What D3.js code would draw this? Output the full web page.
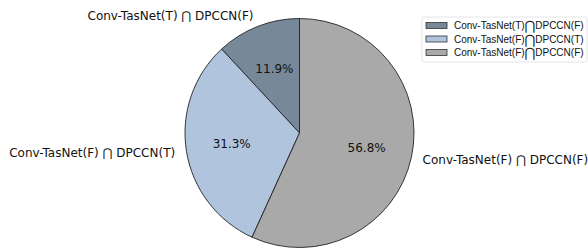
<!DOCTYPE html>
<html>
<head>
<meta charset="utf-8">
<script src="https://cdn.jsdelivr.net/npm/d3@7"></script>
<style>
  body { margin: 0; background: #fff; }
  svg { display: block; }
</style>
</head>
<body>
<svg id="chart" width="588" height="249"></svg>
<script>
// data
var labels = ["Conv-TasNet(T) \u22C2 DPCCN(F)", "Conv-TasNet(F) \u22C2 DPCCN(T)", "Conv-TasNet(F) \u22C2 DPCCN(F)"];
var legendLeft = ["Conv-TasNet(T)", "Conv-TasNet(F)", "Conv-TasNet(F)"];
var legendRight = ["DPCCN(F)", "DPCCN(T)", "DPCCN(F)"];
var values = [11.9, 31.3, 56.8];
var colors = ["#778899", "#B0C4DE", "#A9A9A9"];

var svg = d3.select("#chart");
var cx = 299.5, cy = 133, r = 114.5;

var data = values.map(function (v, i) {
  return { label: labels[i], left: legendLeft[i], right: legendRight[i], value: v, color: colors[i] };
});

// matplotlib style: start at top, go counterclockwise
var pie = d3.pie()
  .value(function (d) { return d.value; })
  .sort(null)
  .startAngle(0)
  .endAngle(-2 * Math.PI);

var arcs = pie(data);
var arc = d3.arc().innerRadius(0).outerRadius(r);

var g = svg.append("g").attr("transform", "translate(" + cx + "," + cy + ")");

g.selectAll(".slice")
  .data(arcs)
  .enter().append("path")
  .attr("class", "slice")
  .attr("d", arc)
  .attr("fill", function (d) { return d.data.color; })
  .attr("stroke", "#222")
  .attr("stroke-width", 0.9);

var mid = function (d) { return (d.startAngle + d.endAngle) / 2; };

// percent labels
g.selectAll(".pct")
  .data(arcs)
  .enter().append("text")
  .attr("class", "pct")
  .attr("x", function (d) { return 0.6 * r * Math.sin(mid(d)); })
  .attr("y", function (d) { return -0.6 * r * Math.cos(mid(d)); })
  .attr("text-anchor", "middle")
  .attr("dy", "0.35em")
  .attr("font-family", "DejaVu Sans")
  .attr("font-size", 12)
  .attr("fill", "#111")
  .text(function (d) { return d.data.value.toFixed(1) + "%"; });

// outer labels
g.selectAll(".lbl")
  .data(arcs)
  .enter().append("text")
  .attr("class", "lbl")
  .attr("x", function (d) { return 1.1 * r * Math.sin(mid(d)); })
  .attr("y", function (d) { return -1.1 * r * Math.cos(mid(d)); })
  .attr("text-anchor", function (d) { return Math.sin(mid(d)) < 0 ? "end" : "start"; })
  .attr("dy", "0.35em")
  .attr("font-family", "DejaVu Sans")
  .attr("font-size", 12)
  .attr("fill", "#111")
  .text(function (d) { return d.data.label; });

// legend
var lg = svg.append("g").attr("transform", "translate(422,17)");
lg.append("rect")
  .attr("width", 165).attr("height", 45)
  .attr("rx", 2)
  .attr("fill", "#fff")
  .attr("stroke", "#e0e0e0")
  .attr("stroke-width", 0.8);

var items = lg.selectAll(".item")
  .data(data)
  .enter().append("g")
  .attr("class", "item")
  .attr("transform", function (d, i) { return "translate(0," + (8.5 + i * 13.5) + ")"; });

items.append("rect")
  .attr("x", 4).attr("y", -3)
  .attr("width", 21).attr("height", 6)
  .attr("fill", function (d) { return d.color; })
  .attr("stroke", "#333")
  .attr("stroke-width", 0.8);

var lt = items.append("text")
  .attr("x", 32)
  .attr("dy", "0.35em")
  .attr("font-family", "Liberation Sans, Arial")
  .attr("font-size", 10)
  .attr("fill", "#111");
lt.append("tspan").text(function (d) { return d.left; });
lt.append("tspan")
  .attr("font-family", "DejaVu Sans")
  .attr("font-size", 13)
  .attr("dy", "0.08em")
  .text("\u22C2");
lt.append("tspan")
  .attr("dy", "-0.1em")
  .text(function (d) { return d.right; });
</script>
</body>
</html>
